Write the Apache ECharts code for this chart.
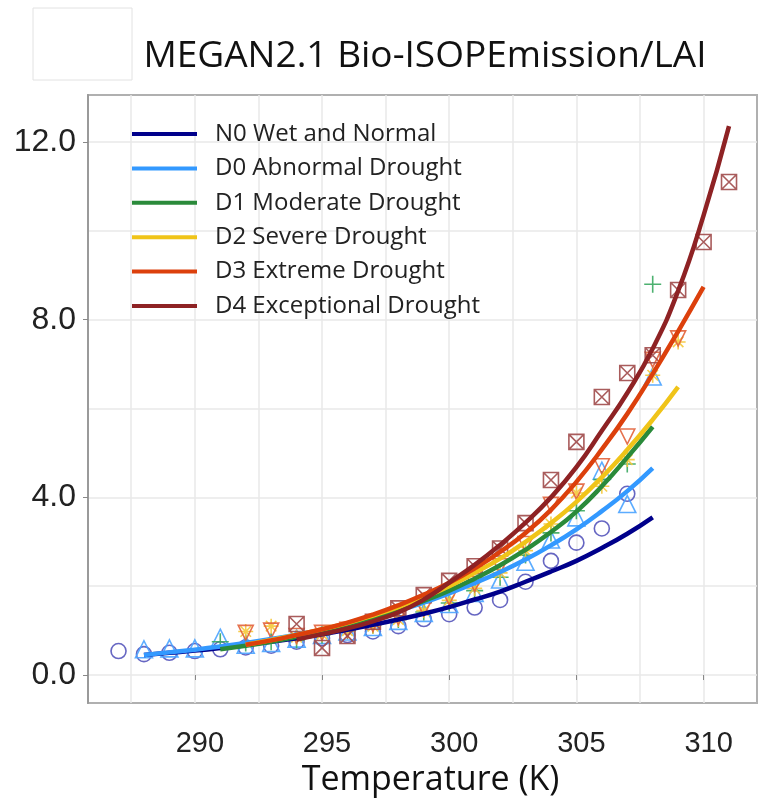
<!DOCTYPE html>
<html>
<head>
<meta charset="utf-8">
<script src="https://cdn.jsdelivr.net/npm/echarts@6/dist/echarts.min.js"></script>
<style>
  html, body { margin: 0; padding: 0; background: #fff; }
  #chart { width: 777px; height: 803px; }
</style>
</head>
<body>
<div id="chart"></div>
<script>
// temperatures (K), one slot per integer kelvin
const tempK = [287, 288, 289, 290, 291, 292, 293, 294, 295, 296, 297, 298, 299, 300, 301, 302, 303, 304, 305, 306, 307, 308, 309, 310, 311]

// fitted curves
const fitN0 = [null, 0.45, 0.5, 0.55, 0.61, 0.68, 0.75, 0.83, 0.92, 1.02, 1.13, 1.25, 1.38, 1.53, 1.7, 1.88, 2.1, 2.33, 2.57, 2.86, 3.18, 3.55, null, null, null]
const fitD0 = [null, 0.45, 0.51, 0.57, 0.64, 0.72, 0.81, 0.91, 1.02, 1.15, 1.29, 1.45, 1.63, 1.84, 2.07, 2.32, 2.6, 2.92, 3.28, 3.69, 4.14, 4.66, null, null, null]
const fitD1 = [null, null, null, null, 0.58, 0.66, 0.75, 0.86, 0.98, 1.12, 1.28, 1.46, 1.67, 1.9, 2.17, 2.47, 2.82, 3.22, 3.68, 4.25, 4.9, 5.59, null, null, null]
const fitD2 = [null, null, null, null, null, 0.68, 0.79, 0.9, 1.03, 1.17, 1.34, 1.53, 1.75, 2.0, 2.3, 2.62, 3.0, 3.42, 3.9, 4.45, 5.07, 5.75, 6.49, null, null]
const fitD3 = [null, null, null, null, null, 0.68, 0.78, 0.9, 1.03, 1.18, 1.36, 1.57, 1.81, 2.08, 2.4, 2.77, 3.2, 3.72, 4.35, 5.08, 5.88, 6.78, 7.74, 8.74, null]
const fitD4 = [null, null, null, null, null, null, null, 0.8, 0.92, 1.05, 1.21, 1.41, 1.7, 2.08, 2.48, 2.93, 3.43, 4.0, 4.68, 5.5, 6.35, 7.35, 8.65, 10.35, 12.36]

// observed points
const ptsN0 = [0.54, 0.47, 0.5, 0.54, 0.58, 0.62, 0.66, 0.75, 0.83, 0.9, 0.98, 1.1, 1.26, 1.37, 1.52, 1.69, 2.1, 2.57, 2.98, 3.3, 4.08, null, null, null, null]
const ptsD0 = [null, 0.58, 0.6, 0.6, 0.84, 0.68, 0.72, 0.82, 0.9, 0.98, 1.08, 1.22, 1.4, 1.6, 1.85, 2.15, 2.55, 3.05, 3.55, 4.6, 3.85, 6.72, null, null, null]
const ptsD1 = [null, null, null, null, 0.75, 0.72, 0.75, 0.79, 0.9, 1.0, 1.12, 1.25, 1.42, 1.62, 1.9, 2.2, 2.7, 3.2, 3.7, 4.4, 4.75, 8.8, null, null, null]
const ptsD2 = [null, null, null, null, null, 0.98, 1.1, 0.85, 0.92, 1.0, 1.1, 1.25, 1.45, 1.68, 1.95, 2.3, 2.8, 3.4, 4.1, 4.25, 4.85, 6.75, 7.5, null, null]
const ptsD3 = [null, null, null, null, null, 0.95, 1.0, 0.88, 0.95, 1.02, 1.15, 1.3, 1.5, 1.75, 2.05, 2.45, 2.95, 3.83, 4.13, 4.7, 5.37, 7.1, 7.58, null, null]
const ptsD4 = [null, null, null, null, null, null, null, 1.15, 0.61, 0.88, 1.2, 1.5, 1.8, 2.12, 2.45, 2.85, 3.42, 4.39, 5.25, 6.26, 6.8, 7.2, 8.67, 9.75, 11.1]

const names = ['N0 Wet and Normal', 'D0 Abnormal Drought', 'D1 Moderate Drought', 'D2 Severe Drought', 'D3 Extreme Drought', 'D4 Exceptional Drought']

// axis ticks
const xGrid = [287.5, 290, 292.5, 295, 297.5, 300, 302.5, 305, 307.5, 310]
const xLabels = [290, 295, 300, 305, 310]
const yGrid = [0, 2, 4, 6, 8, 10, 12]
const yLabels = [0, 4, 8, 12]

const lineColors = ['#00008b', '#3399ff', '#2a8a3a', '#f0c419', '#dc400c', '#8e2224']
const ptColors = ['#5555bb', '#4aa3ff', '#3aa860', '#f5c83a', '#e2623a', '#a04a4a']
const symbols = [
  'circle',
  'triangle',
  'path://M5,0L5,10M0,5L10,5',
  'path://M5,0L5,10M0,5L10,5M1.5,1.5L8.5,8.5M8.5,1.5L1.5,8.5',
  'path://M0,0L10,0L5,9Z',
  'path://M0,0L10,0L10,10L0,10ZM0,0L10,10M10,0L0,10'
]

function pairs(vals) {
  return tempK.map(function (t, i) { return [t, vals[i]] }).filter(function (p) { return p[1] != null })
}

const fits = [fitN0, fitD0, fitD1, fitD2, fitD3, fitD4]
const pts = [ptsN0, ptsD0, ptsD1, ptsD2, ptsD3, ptsD4]

let series = []
pts.forEach(function (vals, i) {
  series.push({
    name: names[i] + ' obs',
    type: 'scatter',
    z: 1,
    symbol: symbols[i],
    symbolSize: i === 1 ? 17 : (i === 2 ? 17 : 15),
    itemStyle: { color: 'rgba(0,0,0,0)', borderColor: ptColors[i], borderWidth: 1.6, opacity: 0.9 },
    data: pairs(vals)
  })
})
fits.forEach(function (vals, i) {
  series.push({
    name: names[i],
    type: 'line',
    z: 3,
    smooth: true,
    showSymbol: false,
    itemStyle: { color: lineColors[i] },
    lineStyle: { color: lineColors[i], width: 4.5 },
    data: pairs(vals)
  })
})

let myChart = echarts.init(document.getElementById('chart'))
myChart.setOption({
  backgroundColor: '#fff',
  animation: false,
  title: {
    text: 'MEGAN2.1 Bio-ISOPEmission/LAI',
    left: 420,
    top: 33,
    textAlign: 'center',
    textStyle: { fontFamily: 'Open Sans', fontSize: 37, fontWeight: 'normal', color: '#111' }
  },
  graphic: [
    { type: 'rect', shape: { x: 33, y: 8, width: 99, height: 72 }, style: { fill: 'none', stroke: '#e2e2e2', lineWidth: 1 }, silent: true }
  ],
  legend: {
    data: names,
    orient: 'vertical',
    left: 127,
    top: 117,
    icon: 'rect',
    itemWidth: 65,
    itemHeight: 4,
    itemGap: 10.4,
    textStyle: { fontFamily: 'Open Sans', fontSize: 24, lineHeight: 24, color: '#222', padding: [0, 0, 0, 13] }
  },
  grid: {
    show: true,
    left: 88,
    right: 20,
    top: 95,
    bottom: 100,
    borderColor: '#b0b0b0',
    borderWidth: 2
  },
  xAxis: [{
    type: 'value',
    min: 285.8,
    max: 312.1,
    name: 'Temperature (K)',
    nameLocation: 'middle',
    nameGap: 52,
    nameTextStyle: { fontFamily: 'Open Sans', fontSize: 34, color: '#111', padding: [0, 0, 0, 16] },
    axisLine: { show: false },
    axisTick: { show: false, customValues: xGrid },
    axisLabel: { customValues: xLabels, fontFamily: 'Liberation Sans', fontSize: 29, color: '#222', margin: 26, padding: [0, 0, 0, 10] },
    splitLine: { show: true, lineStyle: { color: '#e8e8e8', width: 1.5 } }
  }, {
    type: 'value',
    min: 285.8,
    max: 312.1,
    position: 'bottom',
    axisLine: { show: false },
    axisTick: { show: true, customValues: xLabels, length: 5, lineStyle: { color: '#888' } },
    axisLabel: { show: false },
    splitLine: { show: false }
  }],
  yAxis: [{
    type: 'value',
    min: -0.63,
    max: 13.06,
    axisLine: { show: true, lineStyle: { color: '#9a9a9a', width: 2 } },
    axisTick: { show: false, customValues: yGrid },
    axisLabel: { customValues: yLabels, formatter: function (v) { return v.toFixed(1) }, fontFamily: 'Liberation Sans', fontSize: 32, color: '#222', margin: 12 },
    splitLine: { show: true, lineStyle: { color: '#e8e8e8', width: 1.5 } }
  }, {
    type: 'value',
    min: -0.63,
    max: 13.06,
    position: 'left',
    axisLine: { show: false },
    axisTick: { show: true, customValues: yLabels, length: 5, lineStyle: { color: '#888' } },
    axisLabel: { show: false },
    splitLine: { show: false }
  }],
  series: series
})
</script>
</body>
</html>
